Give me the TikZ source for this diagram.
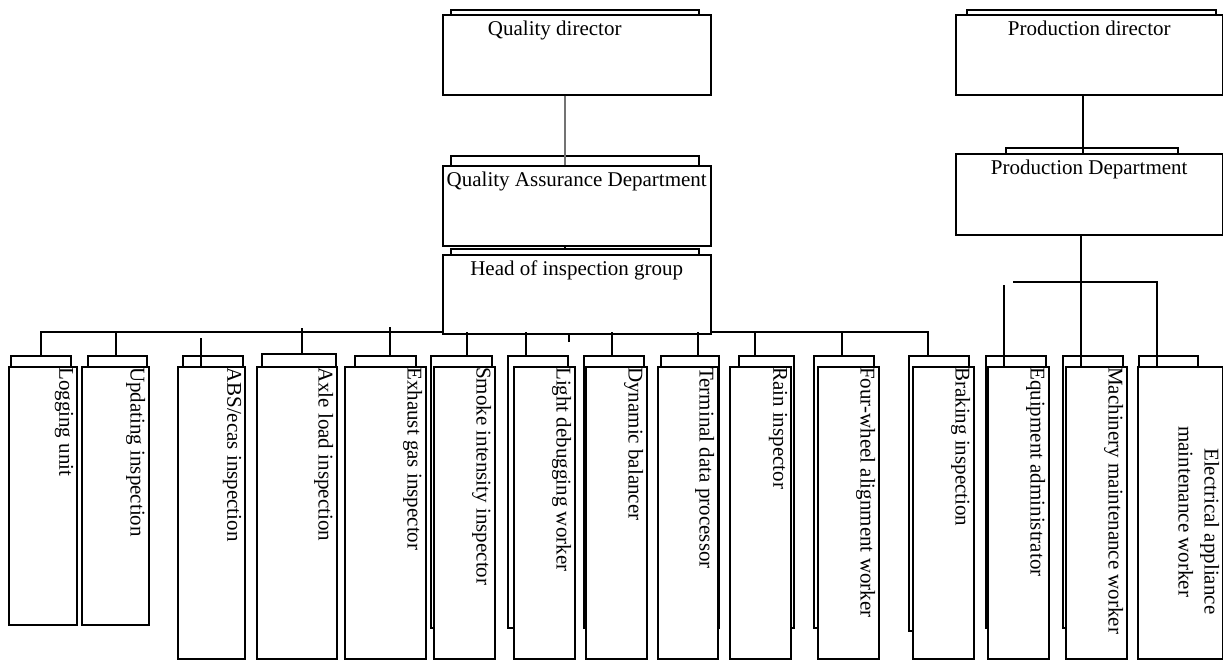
\documentclass[tikz,border=0pt]{standalone}
\usepackage{fontspec}
\setmainfont{Liberation Serif}
\tikzset{
  every node/.style={font=\fontsize{21}{26}\selectfont},
  tabframe/.style={draw, line width=1.5pt, rectangle, inner sep=0pt, anchor=north west},
  staffbox/.style={tabframe, fill=white},
  boxtitle/.style={anchor=north, inner sep=7pt},
  vtext/.style={rotate=-90, anchor=north west, inner xsep=1pt, inner ysep=4pt},
  wire/.style={line width=1.5pt},
}

\begin{document}
\begin{tikzpicture}[x=1pt,y=-1pt]
			%%%%% FRAME %%%%%
			\useasboundingbox (0,0) rectangle (1223,659);
			
			%%%%% BACK TABS %%%%%
			\node[tabframe, minimum width=248pt, minimum height=40pt] (qdirB) at (450,9) {};
			\node[tabframe, minimum width=248pt, minimum height=40pt] (qadB) at (450,155) {};
			\node[tabframe, minimum width=248pt, minimum height=40pt] (headB) at (450,248) {};
			\node[tabframe, minimum width=249pt, minimum height=40pt] (pdirB) at (966,9) {};
			\node[tabframe, minimum width=172pt, minimum height=40pt] (pdeptB) at (1005,147) {};
			
			\node[tabframe, minimum width=60pt, minimum height=245pt] (loggingB) at (10,355) {};
			\node[tabframe, minimum width=59pt, minimum height=245pt] (updatingB) at (87,355) {};
			\node[tabframe, minimum width=60pt, minimum height=272pt] (absB) at (182,355) {};
			\node[tabframe, minimum width=74pt, minimum height=274pt] (axleB) at (261,353) {};
			\node[tabframe, minimum width=61pt, minimum height=272pt] (exhaustB) at (354,355) {};
			\node[tabframe, minimum width=61pt, minimum height=272pt] (smokeB) at (430,355) {};
			\node[tabframe, minimum width=60pt, minimum height=272pt] (lightB) at (507,355) {};
			\node[tabframe, minimum width=60pt, minimum height=272pt] (dynamicB) at (583,355) {};
			\node[tabframe, minimum width=58pt, minimum height=272pt] (terminalB) at (660,355) {};
			\node[tabframe, minimum width=55pt, minimum height=272pt] (rainB) at (738,355) {};
			\node[tabframe, minimum width=60pt, minimum height=272pt] (fourwheelB) at (813,355) {};
			\node[tabframe, minimum width=60pt, minimum height=275pt] (brakingB) at (908,355) {};
			\node[tabframe, minimum width=60pt, minimum height=272pt] (equipB) at (985,355) {};
			\node[tabframe, minimum width=60pt, minimum height=272pt] (machB) at (1062,355) {};
			\node[tabframe, minimum width=59pt, minimum height=100pt] (elecB) at (1138,355) {};
			
			%%%%% MAIN BUS %%%%%
			\coordinate (busL) at (41,332);
			\coordinate (busR) at (928,332);
			\draw[wire] (busL |- loggingB.north) -- (busL) -- (busR) -- (busR |- brakingB.north);
			
			%%%%% UPPER BOXES %%%%%
			\node[staffbox, minimum width=268pt, minimum height=80pt, label={[boxtitle, xshift=-22pt]north:Quality director}] (qdir) at (442,14) {};
			\node[staffbox, minimum width=268pt, minimum height=80pt, label={[boxtitle]north:Quality Assurance Department}] (qad) at (442,165) {};
			\node[staffbox, minimum width=268pt, minimum height=79pt, label={[boxtitle]north:Head of inspection group}] (head) at (442,254) {};
			\node[staffbox, minimum width=267pt, minimum height=80pt, label={[boxtitle]north:Production director}] (pdir) at (955,14) {};
			\node[staffbox, minimum width=267pt, minimum height=81pt, label={[boxtitle]north:Production Department}] (pdept) at (955,153) {};
			
			%%%%% STAFF BOXES %%%%%
			\node[staffbox, minimum width=68pt, minimum height=258pt, label={[vtext]north east:Logging unit}] (logging) at (8,366) {};
			\node[staffbox, minimum width=67pt, minimum height=258pt, label={[vtext]north east:Updating inspection}] (updating) at (81,366) {};
			\node[staffbox, minimum width=67pt, minimum height=292pt, label={[vtext]north east:ABS/ecas inspection}] (abs) at (177,366) {};
			\node[staffbox, minimum width=80pt, minimum height=292pt, label={[vtext]north east:Axle load inspection}] (axle) at (256,366) {};
			\node[staffbox, minimum width=81pt, minimum height=292pt, label={[vtext]north east:Exhaust gas inspector}] (exhaust) at (344,366) {};
			\node[staffbox, minimum width=61pt, minimum height=292pt, label={[vtext]north east:Smoke intensity inspector}] (smoke) at (433,366) {};
			\node[staffbox, minimum width=61pt, minimum height=292pt, label={[vtext]north east:Light debugging worker}] (light) at (513,366) {};
			\node[staffbox, minimum width=61pt, minimum height=292pt, label={[vtext]north east:Dynamic balancer}] (dynamic) at (585,366) {};
			\node[staffbox, minimum width=60pt, minimum height=292pt, label={[vtext]north east:Terminal data processor}] (terminal) at (657,366) {};
			\node[staffbox, minimum width=61pt, minimum height=292pt, label={[vtext]north east:Rain inspector}] (rain) at (729,366) {};
			\node[staffbox, minimum width=61pt, minimum height=292pt, label={[vtext]north east:Four-wheel alignment worker}] (fourwheel) at (817,366) {};
			\node[staffbox, minimum width=61pt, minimum height=292pt, label={[vtext]north east:Braking inspection}] (braking) at (912,366) {};
			\node[staffbox, minimum width=61pt, minimum height=292pt, label={[vtext]north east:Equipment administrator}] (equip) at (987,366) {};
			\node[staffbox, minimum width=61pt, minimum height=292pt, label={[vtext]north east:Machinery maintenance worker}] (mach) at (1065,366) {};
			\node[staffbox, minimum width=85pt, minimum height=292pt, label={[vtext, align=left]north east:\hspace*{81pt}Electrical appliance\\\hspace*{59pt}maintenance worker}] (elec) at (1137,366) {};
			
			%%%%% UPPER LINKS %%%%%
			\coordinate (qx) at (565,0);
			\draw[wire, black!55, line width=2.2pt] (qdir.south -| qx) -- (qad.north -| qx);
			\draw[wire] (qad.south -| qx) -- (headB.north -| qx);
			\coordinate (px) at (1083,0);
			\draw[wire] (pdir.south -| px) -- (pdept.north -| px);
			\coordinate (mx) at (1081,0);
			\draw[wire] (pdept.south -| mx) -- (mach.north -| mx);
			
			%%%%% PRODUCTION BUS %%%%%
			\coordinate (pbusL) at (1013,282);
			\coordinate (pbusR) at (1157,282);
			\draw[wire] (pbusL) -- (pbusR) -- (pbusR |- elec.north);
			\coordinate (dEquip) at (1004,285);
			\draw[wire] (dEquip) -- (dEquip |- equip.north);
			
			%%%%% DROPS %%%%%
			\coordinate (dUpdating) at (116,332);
			\coordinate (dAbs) at (201,338);
			\coordinate (dAxle) at (302,328);
			\coordinate (dExhaust) at (390,327);
			\coordinate (dSmoke) at (467,332);
			\coordinate (dLight) at (526,332);
			\coordinate (dStub) at (569,342);
			\coordinate (dDynamic) at (612,332);
			\coordinate (dTerminal) at (698,332);
			\coordinate (dRain) at (755,332);
			\coordinate (dFourwheel) at (842,332);
			\draw[wire] (dUpdating) -- (dUpdating |- updatingB.north);
			\draw[wire] (dAbs) -- (dAbs |- abs.north);
			\draw[wire] (dAxle) -- (dAxle |- axleB.north);
			\draw[wire] (dExhaust) -- (dExhaust |- exhaustB.north);
			\draw[wire] (dSmoke) -- (dSmoke |- smokeB.north);
			\draw[wire] (dLight) -- (dLight |- lightB.north);
			\draw[wire] (dStub) -- (dStub |- head.south);
			\draw[wire] (dDynamic) -- (dDynamic |- dynamicB.north);
			\draw[wire] (dTerminal) -- (dTerminal |- terminalB.north);
			\draw[wire] (dRain) -- (dRain |- rainB.north);
			\draw[wire] (dFourwheel) -- (dFourwheel |- fourwheelB.north);
			
			%%%%% END %%%%%
\end{tikzpicture}
\end{document}
